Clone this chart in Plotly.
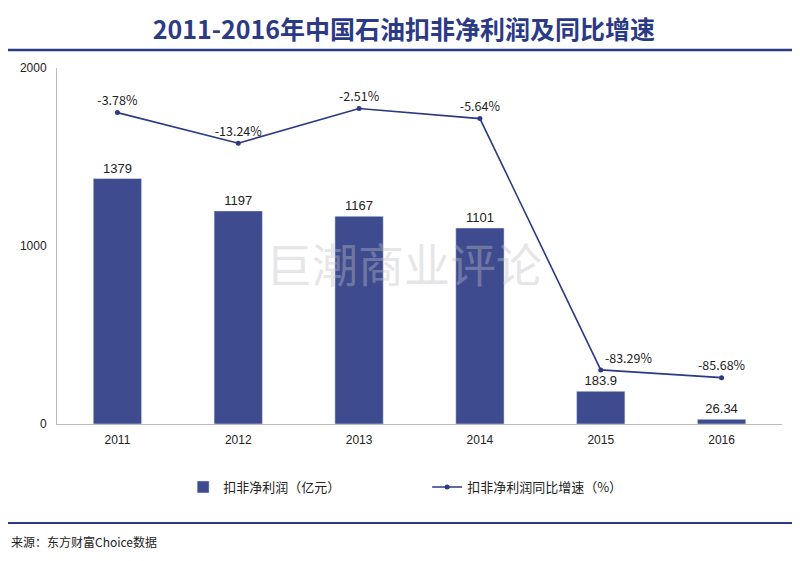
import plotly.graph_objects as go

years = ["2011", "2012", "2013", "2014", "2015", "2016"]
profit = [1379, 1197, 1167, 1101, 183.9, 26.34]
profit_labels = ["1379", "1197", "1167", "1101", "183.9", "26.34"]
growth = [-3.78, -13.24, -2.51, -5.64, -83.29, -85.68]
growth_labels = ["-3.78%", "-13.24%", "-2.51%", "-5.64%", "-83.29%", "-85.68%"]
growth_positions = ["top center"] * 4 + ["top right", "top center"]

navy = "#2b3a85"
bar_color = "#3e4c8f"
font_cn = "Noto Sans CJK SC"

# page has an 8px body margin, so the figure is drawn 8px in from the corner
OFF = 8
W, H = 800 - OFF, 561 - OFF
L, R, T, B = 52 - OFF, 18, 68 - OFF, 137
pw, ph = W - L - R, H - T - B


def px_x(x):
    return (x - OFF - L) / pw


def px_y(y):
    return (H - B - (y - OFF)) / ph


fig = go.Figure()
fig.add_trace(
    go.Bar(
        x=years,
        y=profit,
        name="扣非净利润（亿元）",
        marker_color=bar_color,
        width=0.4,
        text=profit_labels,
        textposition="outside",
        textfont=dict(size=13, color="#222", family="Liberation Sans"),
        cliponaxis=False,
    )
)
fig.add_trace(
    go.Scatter(
        x=years,
        y=growth,
        name="扣非净利润同比增速（%）",
        yaxis="y2",
        mode="lines+markers+text",
        line=dict(color=navy, width=1.6),
        marker=dict(size=5, color=navy),
        text=growth_labels,
        textposition=growth_positions,
        textfont=dict(size=12.5, color="#222"),
        cliponaxis=False,
    )
)

fig.update_layout(
    width=W,
    height=H,
    margin=dict(l=L, r=R, t=T, b=B),
    paper_bgcolor="white",
    plot_bgcolor="white",
    font=dict(family=font_cn, color="#222"),
    title=dict(
        text="<b>2011-2016年中国石油扣非净利润及同比增速</b>",
        x=0.5,
        xanchor="center",
        y=1 - (30 - OFF) / H,
        yanchor="middle",
        font=dict(size=25, color=navy, family=font_cn),
    ),
    xaxis=dict(
        showline=True,
        linecolor="#bbbbbb",
        ticks="outside",
        ticklen=5,
        tickcolor="rgba(0,0,0,0)",
        tickfont=dict(size=12, color="#222", family="Liberation Sans"),
        showgrid=False,
    ),
    yaxis=dict(
        range=[0, 2000],
        tickvals=[0, 1000, 2000],
        showline=True,
        linecolor="#bbbbbb",
        showgrid=False,
        zeroline=False,
        tickfont=dict(size=12, color="#222", family="Liberation Sans"),
        ticks="outside",
        ticklen=7,
        tickcolor="rgba(0,0,0,0)",
    ),
    yaxis2=dict(
        range=[-100, 10],
        overlaying="y",
        side="right",
        visible=False,
    ),
    showlegend=True,
    legend=dict(
        orientation="h",
        x=px_x(179),
        xanchor="left",
        y=px_y(487),
        yanchor="middle",
        font=dict(size=13, color="#222"),
        itemwidth=30,
        traceorder="normal",
        entrywidthmode="pixels",
        entrywidth=199,
    ),
    shapes=[
        dict(type="line", xref="paper", yref="paper",
             x0=px_x(0), x1=px_x(810), y0=px_y(50), y1=px_y(50),
             line=dict(color=navy, width=2.5)),
        dict(type="line", xref="paper", yref="paper",
             x0=px_x(0), x1=px_x(810), y0=px_y(523), y1=px_y(523),
             line=dict(color=navy, width=2)),
    ],
    annotations=[
        dict(text="巨潮商业评论", xref="paper", yref="paper",
             x=px_x(401), y=px_y(262), showarrow=False,
             font=dict(size=46, color="rgba(190,190,195,0.4)", family=font_cn)),
        dict(text="来源：东方财富Choice数据", xref="paper", yref="paper",
             x=px_x(4), y=px_y(541), xanchor="left", yanchor="middle",
             showarrow=False, font=dict(size=12, color="#222", family=font_cn)),
    ],
)

fig.write_html("out.html")
